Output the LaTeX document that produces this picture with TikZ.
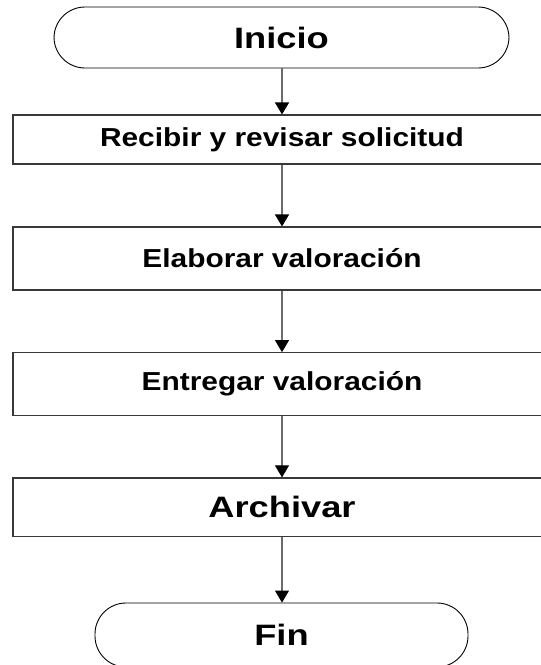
\documentclass[tikz,border=0pt]{standalone}
\usepackage{fontspec}
\setmainfont{Liberation Sans}[FakeStretch=1.15]
\newfontfamily\bigflowfont{Liberation Sans}[FakeStretch=1.23]
\usetikzlibrary{arrows.meta}
\tikzset{
  terminal/.style={draw=black, line width=0.9pt, rectangle, rounded corners=31pt, inner sep=0pt, font=\bigflowfont\fontsize{29.5}{31}\selectfont\bfseries},
  stepbox/.style={draw=black!78, line width=1.1pt, rectangle, inner sep=0pt, minimum width=538pt, font=\fontsize{26}{28}\selectfont\bfseries},
  bigbox/.style={stepbox, font=\bigflowfont\fontsize{29.5}{31}\selectfont\bfseries},
  flow/.style={draw=black!58, line width=1.1pt, -{Triangle[width=14pt,length=12pt,color=black]}}
}
\begin{document}
\begin{tikzpicture}[x=1pt,y=-1pt]
\useasboundingbox (0,0) rectangle (541,665);
\clip (0,0) rectangle (541,665);
\fill[white] (0,0) rectangle (541,665);
\node[terminal, minimum width=455pt, minimum height=61pt] (ini) at (281.5,37.5) {Inicio};
\node[stepbox, minimum height=49pt] (s1) at (282,139.5) {Recibir y revisar solicitud};
\node[stepbox, minimum height=63pt] (s2) at (282,258.5) {Elaborar valoración};
\node[stepbox, minimum height=63pt] (s3) at (282,384.2) {Entregar valoración};
\node[bigbox, minimum height=58.7pt] (s4) at (282,507.3) {Archivar};
\node[terminal, minimum width=373pt, minimum height=64pt] (fin) at (281.5,635) {Fin};
\draw[flow] (ini.south -| 282,0) -- (s1.north);
\draw[flow] (s1.south) -- (s2.north);
\draw[flow] (s2.south) -- (s3.north);
\draw[flow] (s3.south) -- (s4.north);
\draw[flow] (s4.south) -- (fin.north -| 282,0);
\end{tikzpicture}
\end{document}
